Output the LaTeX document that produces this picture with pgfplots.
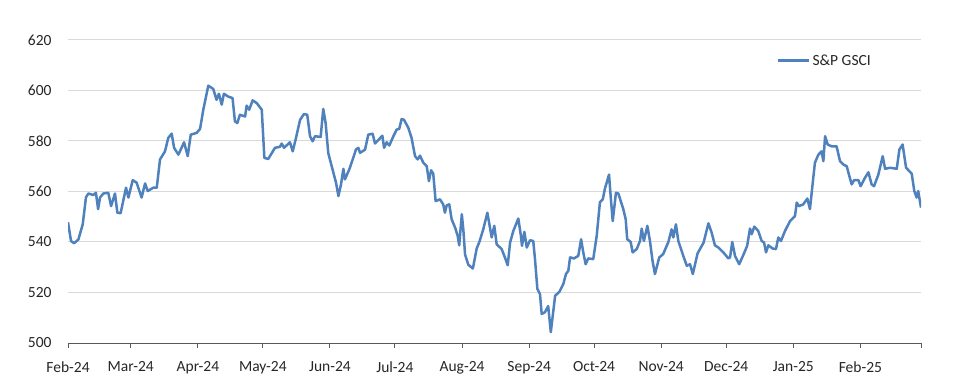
\documentclass[border=0pt]{standalone}
\usepackage{fontspec}
\setmainfont{Carlito}
\usepackage{pgfplots}
\pgfplotsset{compat=1.18}
\definecolor{gsci}{RGB}{79,129,189}
\definecolor{gridc}{RGB}{217,217,217}
\newcommand\cf{\fontsize{15.5}{18}\selectfont}
\begin{document}
\begin{tikzpicture}
\path (0,0) rectangle (969pt,383pt);
\begin{axis}[
  at={(68pt,40pt)}, anchor=south west,
  scale only axis, width=853pt, height=303pt,
  xmin=0, xmax=394, ymin=500, ymax=620,
  axis x line=bottom, axis y line=left,
  x axis line style={-, draw=black!65, line width=1pt},
  y axis line style={draw=none},
  xtick={0,29,60,90,121,151,182,213,243,274,304,335,366,394},
  xticklabels={Feb-24,Mar-24,Apr-24,May-24,Jun-24,Jul-24,Aug-24,Sep-24,Oct-24,Nov-24,Dec-24,Jan-25,Feb-25,{}},
  ytick={500,520,...,620},
  tick align=outside,
  major tick length=5pt,
  xtick style={draw=black!65, line width=1pt},
  ytick style={draw=none},
  ymajorgrids, grid style={draw=gridc, line width=1pt},
  tick label style={font=\cf, text=black!85},
  xticklabel style={yshift=-10pt},
  yticklabel style={xshift=-8pt},
  /pgf/number format/assume math mode=true,
  legend style={at={(axis description cs:0.831,0.932)}, anchor=west, draw=none, fill=none, font=\cf, text=black!85, inner sep=0pt},
  legend image code/.code={\draw[#1] (0pt,0pt) -- (31pt,0pt);},
]
\addplot[gsci, line width=2.5pt, line join=round] table[x=x,y=y] {
x y
0 547.8
1.4 540.4
2.8 539.5
4.8 541.0
6.8 547.0
8.3 557.7
9.4 559.2
11.7 558.6
12.9 559.5
13.9 553.0
14.8 557.6
16.3 559.2
18.6 559.5
19.9 554.2
21.7 559.2
22.8 551.6
24.3 551.4
26.8 561.5
27.9 557.6
29.9 564.5
31.7 563.5
34.0 557.6
35.6 563.2
36.8 560.2
39.4 561.5
41.0 561.5
42.5 572.7
44.8 575.9
46.3 581.2
47.9 582.9
49.0 577.3
51.0 574.6
53.6 579.5
55.3 574.0
56.7 582.5
59.4 583.2
61.0 584.8
62.5 592.4
64.8 601.9
67.1 600.6
68.6 596.3
69.7 598.7
71.0 594.4
72.0 598.7
74.0 597.6
76.0 597.0
77.1 587.8
78.2 587.1
79.4 590.4
81.8 589.7
82.5 594.0
83.7 592.4
85.3 596.1
87.2 595.0
89.5 592.4
90.7 573.3
92.5 572.9
95.6 577.3
97.9 577.7
98.7 579.0
99.8 577.3
102.5 579.5
103.8 575.9
105.3 581.2
107.2 588.4
109.0 590.7
110.5 590.4
111.8 581.9
113.0 579.9
114.1 581.9
116.7 581.6
117.9 592.7
119.0 587.1
120.2 575.3
121.8 570.0
123.8 563.5
124.9 558.2
126.1 562.8
127.2 569.0
127.9 564.8
129.9 568.7
131.5 572.7
133.0 576.6
134.1 577.3
134.9 575.3
137.2 576.6
138.7 582.5
140.7 582.9
141.8 579.0
143.8 580.8
145.2 582.1
146.0 577.3
147.2 579.5
148.4 578.2
150.3 581.9
151.8 584.5
153.0 584.8
154.1 588.7
155.2 588.4
157.2 585.2
158.7 581.2
160.3 574.0
161.5 572.7
162.6 574.2
164.1 571.4
165.7 570.0
166.7 564.1
167.7 568.4
168.7 567.1
169.8 556.2
171.8 556.9
173.3 554.9
174.1 551.6
174.9 554.5
176.1 554.9
177.2 549.0
178.8 545.7
180.0 542.4
180.7 538.7
181.9 551.0
182.6 545.0
183.4 535.0
184.9 531.0
187.0 529.5
188.8 537.5
190.0 540.0
191.8 545.0
193.7 551.6
194.9 545.7
195.7 541.8
196.9 546.4
198.0 539.1
200.3 537.2
201.8 533.9
203.1 530.8
204.2 539.8
205.7 544.4
208.0 549.3
209.2 542.4
209.7 538.5
210.8 544.0
211.9 537.8
213.4 540.7
214.9 540.4
215.7 533.2
216.8 521.4
218.0 519.4
218.8 511.5
220.3 512.2
221.8 514.6
223.0 504.3
225.0 518.7
227.0 520.3
228.8 523.4
230.0 527.3
231.1 528.6
231.9 533.9
233.7 533.5
235.7 534.5
237.0 541.1
238.0 535.9
239.1 531.2
240.3 533.5
242.6 533.2
244.2 542.4
245.7 555.8
247.0 556.9
248.0 561.1
249.9 566.7
250.7 557.6
251.6 548.3
253.1 559.5
254.2 559.2
256.5 553.0
257.6 549.0
258.3 541.1
259.9 540.0
260.8 535.9
262.7 537.2
264.2 540.4
265.0 545.3
266.0 540.4
267.6 546.4
268.8 540.4
270.0 532.5
271.1 527.3
273.1 533.9
274.9 535.2
277.3 540.0
278.8 545.0
279.6 541.8
280.8 547.0
281.9 540.4
284.2 534.5
285.8 530.6
287.3 531.2
288.6 527.3
290.8 535.5
293.6 539.8
295.8 547.4
297.3 543.7
298.8 538.7
300.4 537.8
302.7 535.9
305.0 533.5
305.8 533.9
306.8 540.0
308.1 534.5
310.0 531.2
311.9 534.8
313.7 538.5
315.0 545.3
315.8 543.1
317.0 546.1
318.8 544.4
320.4 540.4
321.5 539.8
322.4 535.9
323.5 538.7
325.5 537.4
327.0 537.2
328.1 541.8
329.3 540.4
331.2 544.4
333.5 548.3
335.8 550.3
336.6 555.6
337.6 554.2
339.6 554.9
341.5 557.2
342.7 553.0
344.0 563.5
345.0 571.4
346.6 574.6
348.1 575.9
348.9 572.0
349.7 581.9
350.9 578.6
352.7 577.9
355.0 577.9
356.6 572.0
358.1 570.7
359.7 570.0
360.9 566.1
362.0 562.8
363.1 564.5
365.1 564.5
366.1 562.1
368.1 565.4
369.7 567.6
371.2 562.8
372.3 562.1
374.3 566.7
376.3 574.0
377.4 569.0
379.7 569.4
382.8 569.0
384.0 576.6
385.5 578.6
387.1 569.4
389.7 567.1
390.9 560.2
392.0 557.6
392.7 560.2
394.0 553.6
};
\addlegendentry{S\&P GSCI}
\end{axis}
\end{tikzpicture}
\end{document}
